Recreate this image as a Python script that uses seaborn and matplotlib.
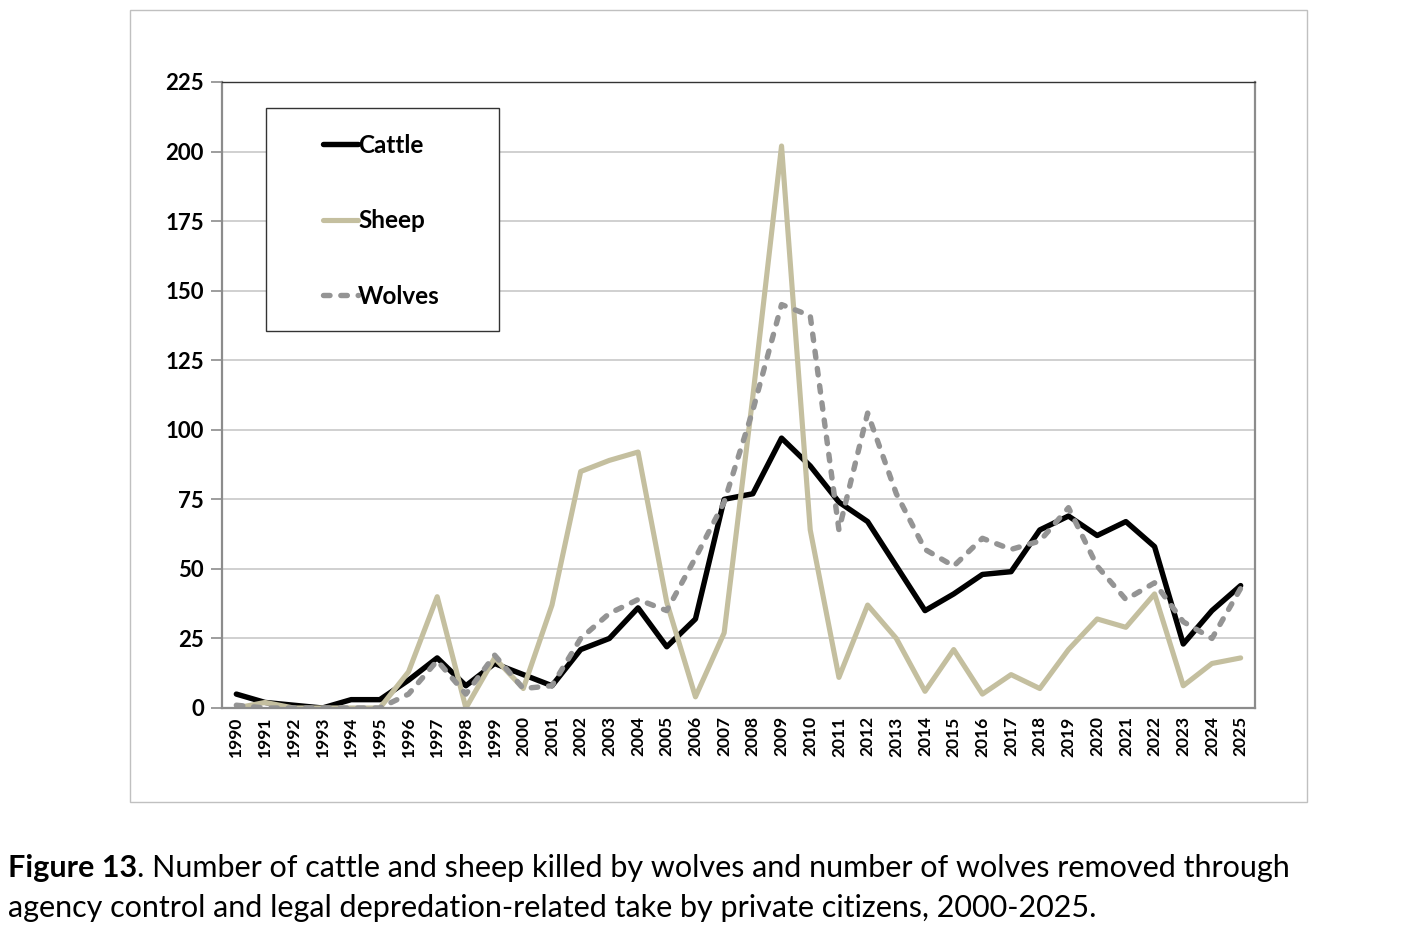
import matplotlib
matplotlib.use('Agg')
import matplotlib.pyplot as plt
import matplotlib.patches as patches
import pandas as pd
import seaborn as sns

# values
years = list(range(1990, 2026))
cattle = [5, 2, 1, 0, 3, 3, 10, 18, 8, 16,
          12, 8, 21, 25, 36, 22, 32, 75, 77, 97,
          87, 74, 67, 51, 35, 41, 48, 49, 64, 69,
          62, 67, 58, 23, 35, 44]
sheep = [0, 2, 0, 0, 0, 0, 13, 40, 0, 18,
         7, 37, 85, 89, 92, 38, 4, 27, 112, 202,
         64, 11, 37, 25, 6, 21, 5, 12, 7, 21,
         32, 29, 41, 8, 16, 18]
wolves = [1, 0, 0, 0, 0, 0, 5, 17, 5, 19,
          7, 8, 25, 34, 39, 35, 54, 74, 107, 145,
          141, 64, 106, 77, 57, 51, 61, 57, 60, 72,
          51, 39, 45, 31, 25, 43]
y_ticks = [0, 25, 50, 75, 100, 125, 150, 175, 200, 225]

df = pd.DataFrame({'idx': range(len(years)), 'Cattle': cattle, 'Sheep': sheep, 'Wolves': wolves})

sns.set_theme(style='white')
plt.rcParams['font.family'] = ['Lato', 'DejaVu Sans']
plt.rcParams['text.color'] = 'black'
plt.rcParams['xtick.color'] = 'black'
plt.rcParams['ytick.color'] = 'black'

fig = plt.figure(figsize=(14.17, 9.25), dpi=100)
ax = fig.add_axes([222 / 1417, 1 - 708 / 925, (1255 - 222) / 1417, (708 - 82) / 925])

sns.lineplot(data=df, x='idx', y='Cattle', ax=ax, color='black', linewidth=3.9, label='Cattle')
sns.lineplot(data=df, x='idx', y='Sheep', ax=ax, color='#c4bf9f', linewidth=3.7, label='Sheep')
sns.lineplot(data=df, x='idx', y='Wolves', ax=ax, color='#949494', linewidth=3.9, label='Wolves',
             dashes=False)
wl = ax.get_lines()[2]
wl.set_dashes((1.2, 2.0))
wl.set_dash_capstyle('round')

ax.set_xlim(-0.5, len(years) - 0.5)
ax.set_ylim(0, 225)
ax.set_yticks(y_ticks)
ax.set_yticklabels([str(v) for v in y_ticks], fontsize=16, fontweight='bold')
ax.set_xticks(range(len(years)))
ax.set_xticklabels([str(y) for y in years], rotation=90, fontsize=12.5, fontweight='bold')
ax.set_xticks([i - 0.5 for i in range(len(years) + 1)], minor=True)
ax.tick_params(axis='x', which='major', length=0, pad=6)
ax.tick_params(axis='x', which='minor', length=7, width=1.2, color='#8c8c8c', direction='out')
ax.tick_params(axis='y', which='major', length=8, width=1.2, color='#8c8c8c', direction='out', pad=5, left=True)
ax.set_xlabel('')
ax.set_ylabel('')
ax.yaxis.grid(True, color='#c8c8c8', linewidth=1.2)
ax.xaxis.grid(False)
ax.set_axisbelow(True)

for side in ['left', 'bottom', 'right']:
    ax.spines[side].set_color('#8c8c8c')
    ax.spines[side].set_linewidth(1.6)
ax.spines['top'].set_color('#333333')
ax.spines['top'].set_linewidth(1.0)

# legend box
ax.add_patch(patches.Rectangle(((266 - 222) / 1033, 1 - (331 - 82) / 626),
                               (499 - 266) / 1033, (331 - 108) / 626,
                               transform=ax.transAxes, facecolor='white',
                               edgecolor='#333333', linewidth=1.0, zorder=3))
leg = ax.legend(loc='upper left', bbox_to_anchor=((323 - 222) / 1033, 1 - (134 - 82) / 626),
                frameon=False, borderpad=0, borderaxespad=0, handlelength=1.45,
                handletextpad=0.0, labelspacing=2.15,
                prop={'size': 17.5, 'weight': 'bold'})
leg.set_zorder(4)

# outer chart border
fig.add_artist(patches.Rectangle((130 / 1417, 1 - 802 / 925), (1307 - 130) / 1417, (802 - 10) / 925,
                                 transform=fig.transFigure, fill=False,
                                 edgecolor='#c0c0c0', linewidth=1.0))

# caption
fig.canvas.draw()
renderer = fig.canvas.get_renderer()
cap_size = 22
t1 = fig.text(8 / 1417, 1 - 868 / 925, 'Figure 13', fontsize=cap_size, fontweight='bold', va='center')
bb = t1.get_window_extent(renderer)
fig.text(bb.x1 / (14.17 * 100), 1 - 868 / 925,
         '. Number of cattle and sheep killed by wolves and number of wolves removed through',
         fontsize=cap_size, va='center')
fig.text(8 / 1417, 1 - 908 / 925,
         'agency control and legal depredation-related take by private citizens, 2000-2025.',
         fontsize=cap_size, va='center')

fig.savefig('out.png', dpi=100)
